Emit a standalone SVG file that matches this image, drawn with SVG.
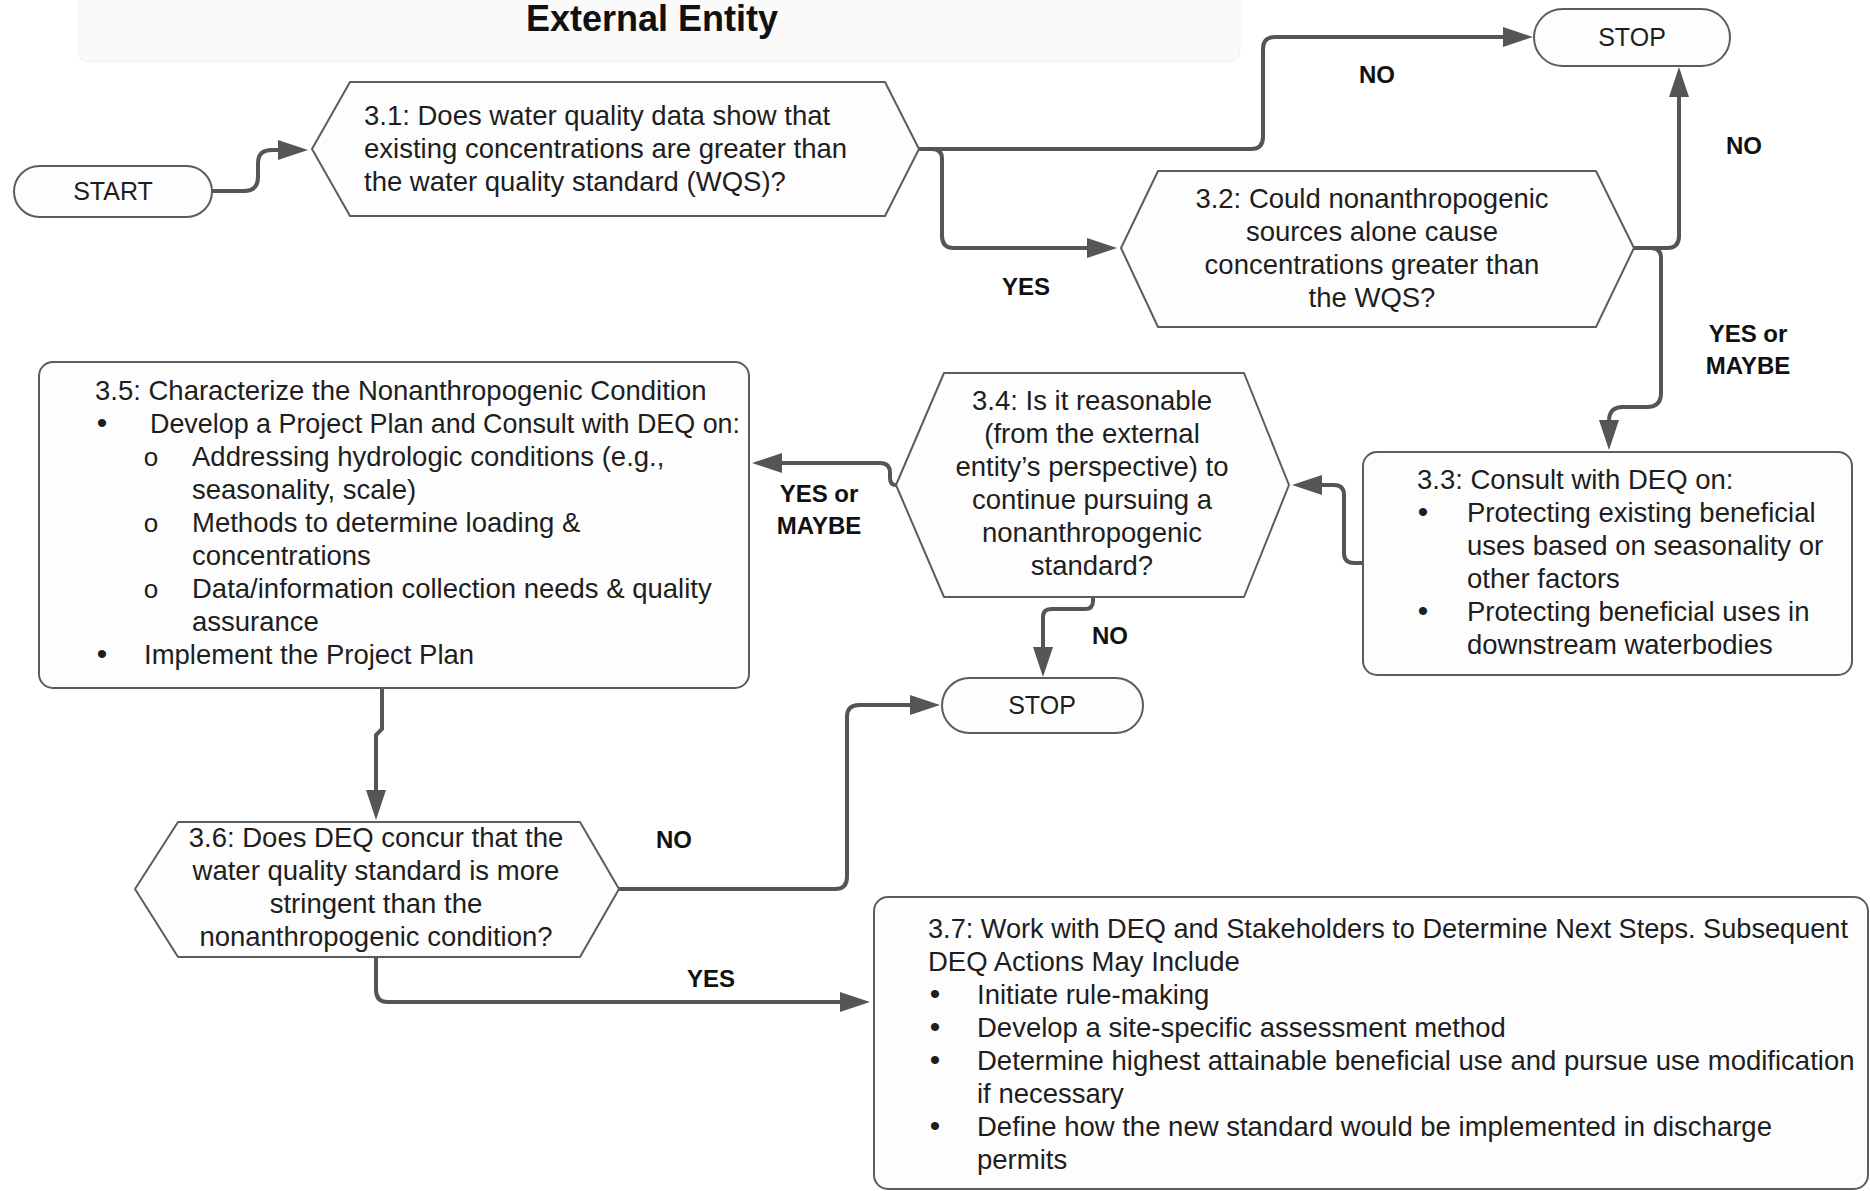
<svg xmlns="http://www.w3.org/2000/svg" width="1870" height="1191" viewBox="0 0 1870 1191">
<defs>
<marker id="arr" markerUnits="userSpaceOnUse" markerWidth="30" markerHeight="20" refX="20" refY="10" orient="auto">
<path d="M0,0 L30,10 L0,20 z" fill="#555"/>
</marker>
<style>
.shape{fill:#fdfdfd;stroke:#5c5c5c;stroke-width:2;stroke-linejoin:round}
.conn{fill:none;stroke:#555;stroke-width:4;marker-end:url(#arr)}
text{font-family:"Liberation Sans",Arial,sans-serif;fill:#1e1e1e;font-size:27.5px}
.c{text-anchor:middle}
.term{font-size:25px;text-anchor:middle}
.lbl{font-weight:bold;font-size:24px;text-anchor:middle;fill:#111}
.title{font-weight:bold;font-size:36px;text-anchor:middle;fill:#111}
.b{font-size:30px;text-anchor:middle}
.o{font-size:26px;text-anchor:middle}
</style>
</defs>
<rect width="1870" height="1191" fill="#ffffff"/>
<rect x="78" y="-12" width="1162" height="74" rx="10" fill="#fafafa" stroke="#f3f3f3" stroke-width="1"/>
<text class="title" x="652" y="31">External Entity</text>

<g id="connectors">
<path class="conn" d="M 212 191 L 244 191 Q 258 191 258 177 L 258 163 Q 258 150 272 150 L 298 150"/>
<path class="conn" d="M 919 149 L 1251 149 Q 1263 149 1263 137 L 1263 49 Q 1263 37 1275 37 L 1523 37"/>
<path class="conn" d="M 919 149 L 932 149 Q 942 149 942 159 L 942 236 Q 942 248 954 248 L 1107 248"/>
<path class="conn" d="M 1634 248 L 1667 248 Q 1679 248 1679 236 L 1679 77"/>
<path class="conn" d="M 1634 248 L 1651 248 Q 1661 248 1661 258 L 1661 393 Q 1661 407 1647 407 L 1623 407 Q 1609 407 1609 421 L 1609 440"/>
<path class="conn" d="M 1363 563 L 1354 563 Q 1344 563 1344 553 L 1344 495 Q 1344 485 1334 485 L 1302 485"/>
<path class="conn" d="M 896 485 Q 890 485 890 478 L 890 473 Q 890 463 880 463 L 762 463"/>
<path class="conn" d="M 1093 597 L 1093 601 Q 1093 609 1085 609 L 1051 609 Q 1043 609 1043 617 L 1043 667"/>
<path class="conn" d="M 382 688 L 382 729 L 376 735 L 376 810"/>
<path class="conn" d="M 619 889 L 835 889 Q 847 889 847 877 L 847 717 Q 847 705 859 705 L 930 705"/>
<path class="conn" d="M 376 957 L 376 990 Q 376 1002 388 1002 L 860 1002"/>
<text class="lbl" x="1377" y="83">NO</text>
<text class="lbl" x="1744" y="154">NO</text>
<text class="lbl" x="1026" y="295">YES</text>
<text class="lbl" x="1748" y="342">YES or</text>
<text class="lbl" x="1748" y="374">MAYBE</text>
<text class="lbl" x="819" y="502">YES or</text>
<text class="lbl" x="819" y="534">MAYBE</text>
<text class="lbl" x="1110" y="644">NO</text>
<text class="lbl" x="674" y="848">NO</text>
<text class="lbl" x="711" y="987">YES</text>
</g>

<g id="start">
<rect class="shape" x="14" y="166" width="198" height="51" rx="25.5"/>
<text class="term" x="113" y="200">START</text>
</g>

<g id="stop1">
<rect class="shape" x="1534" y="9" width="196" height="57" rx="28.5"/>
<text class="term" x="1632" y="46">STOP</text>
</g>

<g id="stop2">
<rect class="shape" x="942" y="678" width="201" height="55" rx="27.5"/>
<text class="term" x="1042" y="714">STOP</text>
</g>

<g id="n31">
<polygon class="shape" points="312,149 350,82 885,82 919,149 885,216 350,216"/>
<text x="364" y="125">3.1: Does water quality data show that</text>
<text x="364" y="158">existing concentrations are greater than</text>
<text x="364" y="191">the water quality standard (WQS)?</text>
</g>

<g id="n32">
<polygon class="shape" points="1121,248 1158,171 1596,171 1634,248 1596,327 1158,327"/>
<text class="c" x="1372" y="208">3.2: Could nonanthropogenic</text>
<text class="c" x="1372" y="241">sources alone cause</text>
<text class="c" x="1372" y="274">concentrations greater than</text>
<text class="c" x="1372" y="307">the WQS?</text>
</g>

<g id="n33">
<rect class="shape" x="1363" y="452" width="489" height="223" rx="14"/>
<text x="1417" y="489">3.3: Consult with DEQ on:</text>
<text class="b" x="1423" y="522">•</text>
<text x="1467" y="522">Protecting existing beneficial</text>
<text x="1467" y="555">uses based on seasonality or</text>
<text x="1467" y="588">other factors</text>
<text class="b" x="1423" y="621">•</text>
<text x="1467" y="621">Protecting beneficial uses in</text>
<text x="1467" y="654">downstream waterbodies</text>
</g>

<g id="n34">
<polygon class="shape" points="896,485 944,373 1244,373 1289,485 1244,597 944,597"/>
<text class="c" x="1092" y="410">3.4: Is it reasonable</text>
<text class="c" x="1092" y="443">(from the external</text>
<text class="c" x="1092" y="476">entity’s perspective) to</text>
<text class="c" x="1092" y="509">continue pursuing a</text>
<text class="c" x="1092" y="542">nonanthropogenic</text>
<text class="c" x="1092" y="575">standard?</text>
</g>

<g id="n35">
<rect class="shape" x="39" y="362" width="710" height="326" rx="14"/>
<text x="95" y="400">3.5: Characterize the Nonanthropogenic Condition</text>
<text class="b" x="102" y="433">•</text>
<text x="150" y="433" textLength="590" lengthAdjust="spacingAndGlyphs">Develop a Project Plan and Consult with DEQ on:</text>
<text class="o" x="151" y="466">o</text>
<text x="192" y="466">Addressing hydrologic conditions (e.g.,</text>
<text x="192" y="499">seasonality, scale)</text>
<text class="o" x="151" y="532">o</text>
<text x="192" y="532">Methods to determine loading &amp;</text>
<text x="192" y="565">concentrations</text>
<text class="o" x="151" y="598">o</text>
<text x="192" y="598">Data/information collection needs &amp; quality</text>
<text x="192" y="631">assurance</text>
<text class="b" x="102" y="664">•</text>
<text x="144" y="664">Implement the Project Plan</text>
</g>

<g id="n36">
<polygon class="shape" points="135,889 178,822 580,822 619,889 580,957 178,957"/>
<text class="c" x="376" y="847">3.6: Does DEQ concur that the</text>
<text class="c" x="376" y="880">water quality standard is more</text>
<text class="c" x="376" y="913">stringent than the</text>
<text class="c" x="376" y="946">nonanthropogenic condition?</text>
</g>

<g id="n37">
<rect class="shape" x="874" y="897" width="994" height="292" rx="14"/>
<text x="928" y="938" textLength="920" lengthAdjust="spacingAndGlyphs">3.7: Work with DEQ and Stakeholders to Determine Next Steps. Subsequent</text>
<text x="928" y="971">DEQ Actions May Include</text>
<text class="b" x="935" y="1004">•</text>
<text x="977" y="1004">Initiate rule-making</text>
<text class="b" x="935" y="1037">•</text>
<text x="977" y="1037">Develop a site-specific assessment method</text>
<text class="b" x="935" y="1070">•</text>
<text x="977" y="1070">Determine highest attainable beneficial use and pursue use modification</text>
<text x="977" y="1103">if necessary</text>
<text class="b" x="935" y="1136">•</text>
<text x="977" y="1136">Define how the new standard would be implemented in discharge</text>
<text x="977" y="1169">permits</text>
</g>
</svg>
